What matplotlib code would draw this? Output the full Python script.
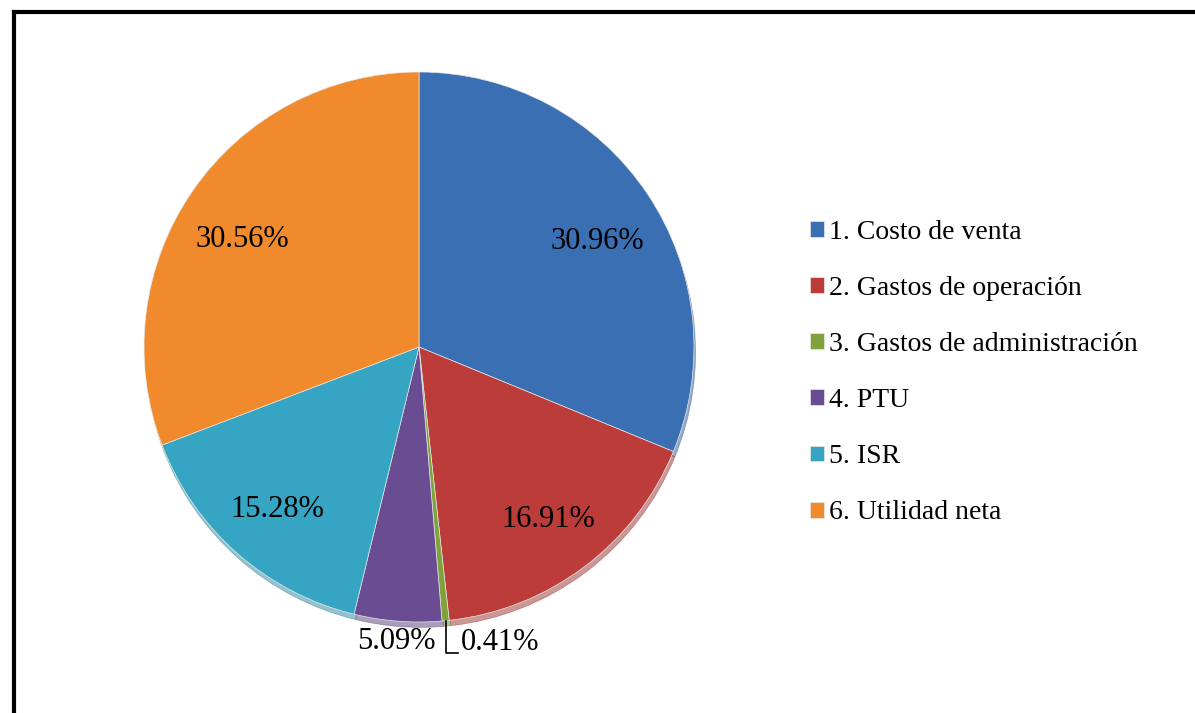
import numpy as np
import matplotlib
matplotlib.use("Agg")
import matplotlib.pyplot as plt
from matplotlib.lines import Line2D

categories = ["1. Costo de venta", "2. Gastos de operación",
              "3. Gastos de administración", "4. PTU", "5. ISR",
              "6. Utilidad neta"]
values = [30.96, 16.91, 0.41, 5.09, 15.28, 30.56]
labels = ["30.96%", "16.91%", "0.41%", "5.09%", "15.28%", "30.56%"]
colors = ["#3a6fb3", "#bb3c39", "#7fa23a", "#6a4c93", "#35a5c3", "#f08a2d"]

plt.rcParams["font.family"] = ["Liberation Serif", "DejaVu Serif"]

fig = plt.figure(figsize=(11.95, 7.13), dpi=100)
W, H = 1195, 713
cx, cy, r = 419, 347, 275
ax = fig.add_axes([(cx - r) / W, (H - cy - r) / H, 2 * r / W, 2 * r / H])

wedges, _ = ax.pie(values, colors=colors, startangle=90, counterclock=False,
                   radius=1.0,
                   wedgeprops=dict(edgecolor="#e8e8e8", linewidth=0.5),
                   shadow=dict(ox=0.004, oy=-0.014, shade=0.2))
ax.set_xlim(-1, 1)
ax.set_ylim(-1, 1)
ax.set_aspect("equal")
ax.axis("off")

fs = 22
for i, w in enumerate(wedges):
    th = np.deg2rad((w.theta1 + w.theta2) / 2)
    c, s = np.cos(th), np.sin(th)
    if values[i] > 10:
        # labels in upper half sit a bit lower, like the original
        dy = -0.05 if s > 0 else -0.005
        ax.text(0.78 * c, 0.78 * s + dy, labels[i], ha="center", va="center",
                fontsize=fs, color="black")
    elif values[i] > 1:
        ax.text(1.08 * c, 1.075 * s, labels[i], ha="center", va="center",
                fontsize=fs, color="black")
    else:
        ybot = -1.113
        ax.plot([c, c, c + 0.045], [s, ybot, ybot], color="black", lw=1.2,
                clip_on=False)
        ax.text(c + 0.055, -1.073, labels[i], ha="left", va="center",
                fontsize=fs, color="black")

fig.legend(wedges, categories, loc="upper left",
           bbox_to_anchor=(796 / W, 1 - 206 / H), frameon=False,
           fontsize=20, handlelength=0.5, handleheight=0.5,
           handletextpad=0.2, labelspacing=1.12, borderpad=0)

# outer chart frame (left and top edges visible)
fig.add_artist(Line2D([14 / W, 14 / W], [0, 1 - 12 / H], color="black",
                      lw=3, transform=fig.transFigure))
fig.add_artist(Line2D([14 / W, 1], [1 - 12 / H, 1 - 12 / H], color="black",
                      lw=3, transform=fig.transFigure))

fig.savefig("out.png", dpi=100)
